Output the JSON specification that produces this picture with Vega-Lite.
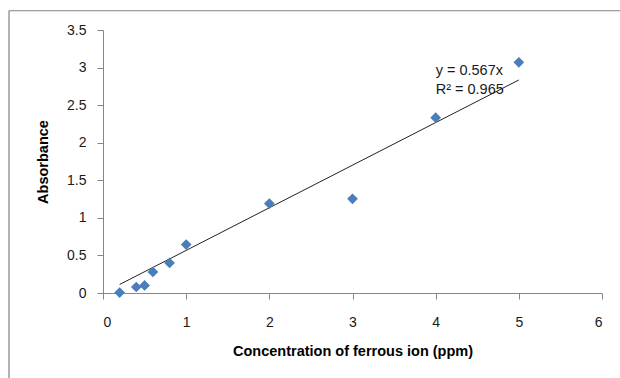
{
  "$schema": "https://vega.github.io/schema/vega-lite/v6.json",
  "width": 499,
  "height": 263,
  "autosize": {"type": "none"},
  "padding": {"left": 103, "top": 30, "right": 18, "bottom": 85},
  "background": "white",
  "config": {
    "view": {"stroke": null},
    "axis": {
      "grid": false,
      "domainColor": "#868686",
      "tickColor": "#868686",
      "tickSize": 6,
      "labelFont": "Liberation Sans",
      "labelFontSize": 14,
      "labelColor": "#1a1a1a",
      "titleFont": "Liberation Sans",
      "titleFontSize": 14.5,
      "titleFontWeight": "bold",
      "titleColor": "#000000"
    }
  },
  "datasets": {
    "pts": [
      {"conc": 0.2, "abs": 0.005},
      {"conc": 0.4, "abs": 0.08},
      {"conc": 0.5, "abs": 0.1},
      {"conc": 0.6, "abs": 0.28},
      {"conc": 0.8, "abs": 0.4},
      {"conc": 1.0, "abs": 0.645},
      {"conc": 2.0, "abs": 1.19},
      {"conc": 3.0, "abs": 1.253},
      {"conc": 4.0, "abs": 2.333},
      {"conc": 5.0, "abs": 3.07}
    ],
    "trend": [
      {"conc": 0.2, "abs": 0.1134},
      {"conc": 5.0, "abs": 2.835}
    ],
    "eq": [
      {"conc": 4.0, "abs": 2.96, "label": "y = 0.567x"},
      {"conc": 4.0, "abs": 2.70, "label": "R² = 0.965"}
    ],
    "frame": [
      {"conc": -1.13, "abs": 3.756, "bottom": -1.5, "right": 6.5}
    ]
  },
  "layer": [
    {
      "data": {"name": "trend"},
      "mark": {"type": "line", "color": "#222222", "strokeWidth": 1},
      "encoding": {
        "x": {
          "field": "conc", "type": "quantitative",
          "scale": {"domain": [0, 6], "nice": false},
          "axis": {"values": [0, 1, 2, 3, 4, 5, 6], "format": "~g", "labelPadding": 16, "title": "Concentration of ferrous ion (ppm)", "titlePadding": 15}
        },
        "y": {
          "field": "abs", "type": "quantitative",
          "scale": {"domain": [0, 3.5], "nice": false},
          "axis": {"values": [0, 0.5, 1, 1.5, 2, 2.5, 3, 3.5], "format": "~g", "labelPadding": 11, "title": "Absorbance", "titlePadding": 16}
        }
      }
    },
    {
      "data": {"name": "pts"},
      "mark": {"type": "point", "shape": "diamond", "filled": true, "opacity": 1, "color": "#4a7ebb", "size": 115},
      "encoding": {
        "x": {
          "field": "conc", "type": "quantitative",
          "axis": {"values": [0, 1, 2, 3, 4, 5, 6], "format": "~g", "labelPadding": 16, "title": "Concentration of ferrous ion (ppm)", "titlePadding": 15}
        },
        "y": {
          "field": "abs", "type": "quantitative",
          "axis": {"values": [0, 0.5, 1, 1.5, 2, 2.5, 3, 3.5], "format": "~g", "labelPadding": 11, "title": "Absorbance", "titlePadding": 16}
        }
      }
    },
    {
      "data": {"name": "eq"},
      "mark": {"type": "text", "align": "left", "baseline": "middle", "font": "Liberation Sans", "fontSize": 14.5, "color": "#1a1a1a"},
      "encoding": {
        "x": {
          "field": "conc", "type": "quantitative",
          "axis": {"values": [0, 1, 2, 3, 4, 5, 6], "format": "~g", "labelPadding": 16, "title": "Concentration of ferrous ion (ppm)", "titlePadding": 15}
        },
        "y": {
          "field": "abs", "type": "quantitative",
          "axis": {"values": [0, 0.5, 1, 1.5, 2, 2.5, 3, 3.5], "format": "~g", "labelPadding": 11, "title": "Absorbance", "titlePadding": 16}
        },
        "text": {"field": "label"}
      }
    },
    {
      "data": {"name": "frame"},
      "mark": {"type": "rule", "color": "#808080", "strokeWidth": 1.2, "clip": false},
      "encoding": {
        "x": {
          "field": "conc", "type": "quantitative",
          "axis": {"values": [0, 1, 2, 3, 4, 5, 6], "format": "~g", "labelPadding": 16, "title": "Concentration of ferrous ion (ppm)", "titlePadding": 15}
        },
        "y": {
          "field": "abs", "type": "quantitative",
          "axis": {"values": [0, 0.5, 1, 1.5, 2, 2.5, 3, 3.5], "format": "~g", "labelPadding": 11, "title": "Absorbance", "titlePadding": 16}
        },
        "y2": {"field": "bottom"}
      }
    },
    {
      "data": {"name": "frame"},
      "mark": {"type": "rule", "color": "#808080", "strokeWidth": 1.2, "clip": false},
      "encoding": {
        "x": {
          "field": "conc", "type": "quantitative",
          "axis": {"values": [0, 1, 2, 3, 4, 5, 6], "format": "~g", "labelPadding": 16, "title": "Concentration of ferrous ion (ppm)", "titlePadding": 15}
        },
        "y": {
          "field": "abs", "type": "quantitative",
          "axis": {"values": [0, 0.5, 1, 1.5, 2, 2.5, 3, 3.5], "format": "~g", "labelPadding": 11, "title": "Absorbance", "titlePadding": 16}
        },
        "x2": {"field": "right"}
      }
    }
  ]
}
